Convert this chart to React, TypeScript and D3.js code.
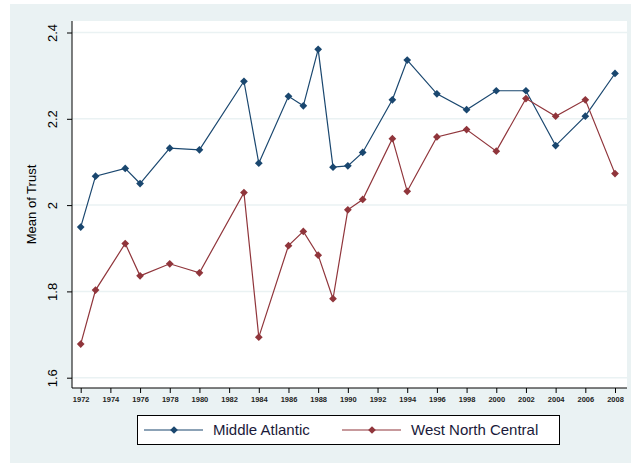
import * as d3 from 'd3';
import React, { useEffect, useRef } from 'react';

// survey years
const years = [1972, 1973, 1975, 1976, 1978, 1980, 1983, 1984, 1986, 1987, 1988, 1989, 1990, 1991, 1993, 1994, 1996, 1998, 2000, 2002, 2004, 2006, 2008];

// mean of trust by region
const middleAtlantic = [1.949, 2.067, 2.085, 2.05, 2.132, 2.128, 2.287, 2.097, 2.252, 2.23, 2.361, 2.088, 2.091, 2.122, 2.244, 2.336, 2.258, 2.221, 2.265, 2.265, 2.138, 2.206, 2.305];
const westNorthCentral = [1.678, 1.803, 1.911, 1.836, 1.864, 1.843, 2.029, 1.694, 1.906, 1.939, 1.884, 1.783, 1.989, 2.013, 2.154, 2.032, 2.158, 2.175, 2.125, 2.247, 2.206, 2.244, 2.073];

const xTicks = [1972, 1974, 1976, 1978, 1980, 1982, 1984, 1986, 1988, 1990, 1992, 1994, 1996, 1998, 2000, 2002, 2004, 2006, 2008];
const yTicks = [1.6, 1.8, 2, 2.2, 2.4];

const seriesNames = ['Middle Atlantic', 'West North Central'];
const colors = ['#1a476f', '#90353b'];

const App = () => {
  const svgRef = useRef<SVGSVGElement>(null);

  useEffect(() => {
    const width = 631;
    const height = 463;
    const plot = { left: 72, right: 627, top: 21, bottom: 388 };

    const x = d3.scaleLinear().domain([1972, 2008]).range([80.7, 615]);
    const y = d3.scaleLinear().domain([1.6, 2.4]).range([377.7, 32.5]);

    const svg = d3.select(svgRef.current);
    svg.selectAll('*').remove();
    svg.attr('width', width).attr('height', height);

    // outer background
    svg.append('rect')
      .attr('x', 10).attr('y', 4)
      .attr('width', width - 10).attr('height', height - 4)
      .attr('fill', '#eaf2f3');

    // plot region
    svg.append('rect')
      .attr('x', plot.left).attr('y', plot.top)
      .attr('width', plot.right - plot.left).attr('height', plot.bottom - plot.top)
      .attr('fill', '#ffffff');

    // gridlines
    svg.append('g')
      .selectAll('line')
      .data(yTicks)
      .enter()
      .append('line')
      .attr('x1', plot.left).attr('x2', plot.right)
      .attr('y1', d => y(d)).attr('y2', d => y(d))
      .attr('stroke', '#eaf2f3')
      .attr('stroke-width', 1.5);

    // y axis
    const yAxis = svg.append('g')
      .attr('transform', `translate(${plot.left},0)`)
      .call(d3.axisLeft(y).tickValues(yTicks).tickSize(5).tickFormat(d3.format('')));
    yAxis.select('.domain').attr('d', `M0,${plot.top}V${plot.bottom}`).attr('stroke', '#000');
    yAxis.selectAll('.tick line').attr('stroke', '#000');
    yAxis.selectAll('.tick text')
      .attr('x', 0).attr('y', 0)
      .attr('transform', 'translate(-20,0) rotate(-90)')
      .attr('dy', '0.35em')
      .style('text-anchor', 'middle')
      .style('font-family', 'Arial, "Liberation Sans", sans-serif')
      .style('font-size', '13px')
      .attr('fill', '#000');

    // x axis
    const xAxis = svg.append('g')
      .attr('transform', `translate(0,${plot.bottom})`)
      .call(d3.axisBottom(x).tickValues(xTicks).tickSize(5).tickFormat(d3.format('d')));
    xAxis.select('.domain').attr('d', `M${plot.left},0H${plot.right}`).attr('stroke', '#000');
    xAxis.selectAll('.tick line').attr('stroke', '#000');
    xAxis.selectAll('.tick text')
      .attr('y', 9)
      .style('font-family', 'Arial, "Liberation Sans", sans-serif')
      .style('font-size', '7.5px')
      .style('font-weight', 'bold')
      .attr('fill', '#222');

    // axis title
    svg.append('text')
      .attr('transform', `translate(36,${(plot.top + plot.bottom) / 2}) rotate(-90)`)
      .style('text-anchor', 'middle')
      .style('font-family', 'Arial, "Liberation Sans", sans-serif')
      .style('font-size', '13px')
      .attr('fill', '#000')
      .text('Mean of Trust');

    // square rotated 45deg gives an even diamond
    const diamond = d3.symbol().type(d3.symbolSquare).size(30);
    const allSeries = [middleAtlantic, westNorthCentral];

    allSeries.forEach((vals, i) => {
      const pts = years.map((yr, j) => ({ yr, v: vals[j] }));
      svg.append('path')
        .datum(pts)
        .attr('fill', 'none')
        .attr('stroke', colors[i])
        .attr('stroke-width', 1.2)
        .attr('d', d3.line<{ yr: number; v: number }>()
          .x(d => x(d.yr))
          .y(d => y(d.v)));
      svg.append('g')
        .selectAll('path')
        .data(pts)
        .enter()
        .append('path')
        .attr('d', diamond)
        .attr('transform', d => `translate(${x(d.yr)},${y(d.v)}) rotate(45)`)
        .attr('fill', colors[i]);
    });

    // legend
    const legend = svg.append('g');
    legend.append('rect')
      .attr('x', 137.5).attr('y', 415.5)
      .attr('width', 422).attr('height', 29)
      .attr('fill', '#fff')
      .attr('stroke', '#000')
      .attr('stroke-width', 1);
    const legendX = [144, 342];
    seriesNames.forEach((name, i) => {
      const lx = legendX[i];
      legend.append('line')
        .attr('x1', lx).attr('x2', lx + 59)
        .attr('y1', 430).attr('y2', 430)
        .attr('stroke', colors[i])
        .attr('stroke-width', 1.2);
      legend.append('path')
        .attr('d', diamond)
        .attr('transform', `translate(${lx + 30},430) rotate(45)`)
        .attr('fill', colors[i]);
      legend.append('text')
        .attr('x', lx + 69).attr('y', 430)
        .attr('dy', '0.35em')
        .style('font-family', 'Arial, "Liberation Sans", sans-serif')
        .style('font-size', '15px')
        .attr('fill', '#1a1a3a')
        .text(name);
    });
  }, []);

  return <svg ref={svgRef} style={{ display: 'block', position: 'absolute', left: 0, top: 0 }}></svg>;
};

export default App;
